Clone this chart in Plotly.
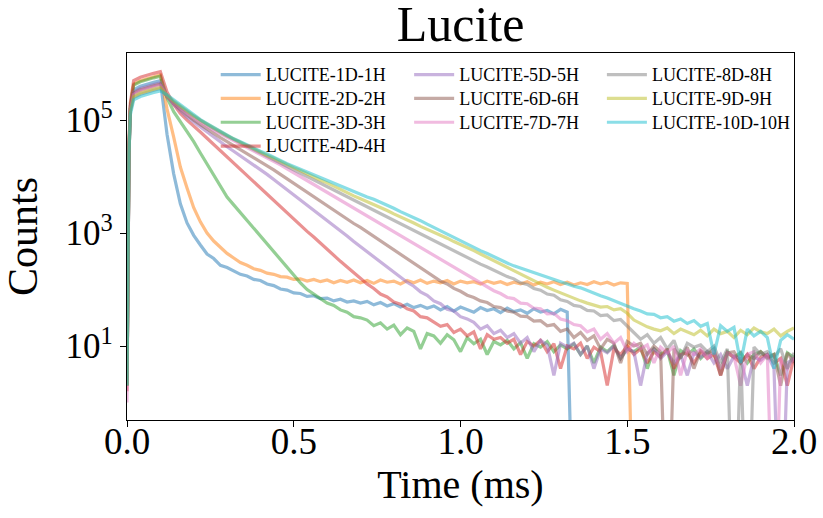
import numpy as np
import plotly.graph_objects as go

# time base (ms)
time_early = [0, 0.003, 0.006, 0.01, 0.02, 0.04, 0.06, 0.08, 0.1]
time_tail = list(np.round(np.arange(0.12, 2.0001, 0.02), 2))
time_ms = time_early + time_tail

series_names = ["LUCITE-1D-1H", "LUCITE-2D-2H", "LUCITE-3D-3H", "LUCITE-4D-4H",
                "LUCITE-5D-5H", "LUCITE-6D-6H", "LUCITE-7D-7H", "LUCITE-8D-8H",
                "LUCITE-9D-9H", "LUCITE-10D-10H"]

# log10(counts)
log_1 = [0.4, 3.0, 4.5, 5.2, 5.54, 5.60, 5.64, 5.67, 5.70,
         4.75, 4.05, 3.52, 3.18, 2.96, 2.79, 2.63, 2.55, 2.43, 2.39,
         2.33, 2.27, 2.24, 2.18, 2.16, 2.10, 2.07, 2.01, 1.99, 1.94,
         1.93, 1.88, 1.89, 1.84, 1.85, 1.80, 1.83, 1.78, 1.80, 1.76,
         1.79, 1.73, 1.77, 1.71, 1.75, 1.69, 1.74, 1.68, 1.72, 1.67,
         1.71, 1.64, 1.70, 1.62, 1.69, 1.65, 1.60, 1.68, 1.63, 1.66,
         1.59, 1.67, 1.61, 1.64, 1.58, 1.66, 1.60, 1.63, 1.57, 1.65,
         1.60, -3] + [None] * 33
log_2 = [0.4, 3.0, 4.5, 5.25, 5.64, 5.70, 5.74, 5.77, 5.80,
         5.20, 4.70, 4.17, 3.80, 3.45, 3.20, 3.00, 2.86, 2.74, 2.64,
         2.56, 2.48, 2.43, 2.37, 2.34, 2.29, 2.27, 2.23, 2.22, 2.18,
         2.19, 2.15, 2.18, 2.14, 2.17, 2.12, 2.16, 2.13, 2.17, 2.12,
         2.16, 2.11, 2.17, 2.13, 2.15, 2.10, 2.16, 2.12, 2.17, 2.11,
         2.15, 2.12, 2.16, 2.10, 2.15, 2.12, 2.14, 2.10, 2.15, 2.11,
         2.14, 2.09, 2.13, 2.10, 2.14, 2.08, 2.13, 2.10, 2.14, 2.09,
         2.13, 2.08, 2.12, 2.09, 2.14, 2.10, 2.13, 2.08, 2.12, 2.11,
         -3] + [None] * 24
log_3 = [0.3, 3.0, 4.5, 5.25, 5.62, 5.68, 5.72, 5.75, 5.78,
         5.40, 5.15, 4.98, 4.80, 4.62, 4.42, 4.22, 4.02, 3.83, 3.64,
         3.50, 3.36, 3.22, 3.09, 2.95, 2.82, 2.68, 2.53, 2.38, 2.25,
         2.12, 2.00, 1.92, 1.83, 1.76, 1.72, 1.64, 1.60, 1.52, 1.50,
         1.46, 1.36, 1.41, 1.30, 1.37, 1.20, 1.32, 1.26, 0.95, 1.22,
         1.18, 1.05, 1.20, 1.11, 0.90, 1.15, 1.04, 1.12, 0.85, 1.08,
         1.02, 1.10, 0.95, 1.06, 0.78, 1.04, 0.98, 1.08, 0.90, 1.02,
         0.95, 1.04, 0.85, 1.00, 0.70, 0.98, 0.90, 1.01, 0.78, 0.95,
         0.90, 0.98, 0.60, 0.95, 0.85, 0.93, 0.48, 0.92, 0.84, 0.95,
         0.78, 0.90, 0.85, 0.60, 0.90, 0.80, 0.88, 0.70, 0.85, 0.90,
         0.78, 0.85, 0.48, 0.88, 0.80]
log_4 = [0.2, 3.0, 4.6, 5.3, 5.70, 5.76, 5.80, 5.83, 5.86,
         5.50, 5.28, 5.12, 5.00, 4.90, 4.79, 4.68, 4.57, 4.46, 4.35,
         4.24, 4.13, 4.02, 3.91, 3.80, 3.69, 3.58, 3.47, 3.35, 3.24,
         3.13, 3.03, 2.93, 2.82, 2.71, 2.61, 2.50, 2.40, 2.30, 2.21,
         2.10, 2.02, 1.92, 1.87, 1.78, 1.74, 1.66, 1.62, 1.52, 1.50,
         1.42, 1.35, 1.38, 1.24, 1.30, 1.18, 1.25, 0.95, 1.20, 1.12,
         1.15, 1.05, 1.12, 0.85, 1.08, 1.00, 1.10, 0.90, 1.04, 0.60,
         1.00, 0.95, 1.05, 0.78, 0.98, 0.90, 0.30, 0.95, 0.85, 1.00,
         0.85, 0.95, 0.70, 0.90, 0.80, 0.95, 0.60, 0.85, 0.88, 0.70,
         0.90, 0.78, 0.85, 0.48, 0.88, 0.80, 0.70, 0.85, 0.60, 0.80,
         0.85, 0.70, 0.78, 0.30, 0.80]
log_5 = [0.3, 3.0, 4.4, 5.2, 5.50, 5.56, 5.60, 5.63, 5.66,
         5.42, 5.28, 5.16, 5.06, 4.97, 4.88, 4.79, 4.70, 4.61, 4.53,
         4.45, 4.37, 4.29, 4.21, 4.12, 4.04, 3.95, 3.86, 3.77, 3.68,
         3.59, 3.50, 3.41, 3.32, 3.22, 3.13, 3.04, 2.95, 2.85, 2.76,
         2.67, 2.58, 2.49, 2.41, 2.31, 2.23, 2.13, 2.06, 1.96, 1.90,
         1.80, 1.75, 1.65, 1.62, 1.52, 1.48, 1.42, 1.30, 1.36, 1.22,
         1.28, 1.15, 1.22, 1.05, 1.15, 0.90, 1.10, 1.02, 0.48, 1.05,
         0.98, 1.05, 0.85, 1.00, 0.60, 0.95, 0.88, 1.00, 0.78, 0.95,
         0.90, 0.30, 0.88, 0.95, 0.78, 0.90, 0.70, 0.85, 0.48, 0.88,
         0.80, 0.90, 0.70, 0.85, 0.60, 0.82, 0.78, 0.30, 0.80, 0.75,
         0.85, 0.60, -3, 0.70, 0.78]
log_6 = [0.3, 3.0, 4.4, 5.2, 5.48, 5.54, 5.58, 5.61, 5.64,
         5.42, 5.30, 5.19, 5.09, 5.00, 4.92, 4.84, 4.76, 4.69, 4.62,
         4.55, 4.48, 4.41, 4.34, 4.27, 4.20, 4.12, 4.04, 3.96, 3.88,
         3.80, 3.72, 3.64, 3.56, 3.48, 3.40, 3.32, 3.24, 3.17, 3.10,
         3.02, 2.94, 2.86, 2.78, 2.70, 2.62, 2.54, 2.46, 2.38, 2.30,
         2.23, 2.15, 2.10, 2.02, 1.97, 1.90, 1.86, 1.80, 1.77, 1.70,
         1.68, 1.62, 1.60, 1.53, 1.52, 1.44, 1.45, 1.36, 1.38, 1.26,
         1.30, 1.15, 1.24, 1.10, 1.18, 0.95, 1.12, 1.05, 0.70, 1.08,
         1.00, 1.05, 0.85, 1.00, 0.90, -3, 0.95, 0.80, 0.98, 0.60,
         0.92, 0.85, 0.95, 0.48, 0.88, 0.90, 0.70, 0.85, 0.78, 0.90,
         0.80, 0.85, 0.30, 0.88, 0.70]
log_7 = [0.0, 3.0, 4.4, 5.2, 5.46, 5.52, 5.56, 5.59, 5.62,
         5.43, 5.31, 5.21, 5.12, 5.04, 4.96, 4.89, 4.82, 4.76, 4.70,
         4.64, 4.58, 4.52, 4.46, 4.40, 4.34, 4.28, 4.21, 4.14, 4.07,
         4.00, 3.93, 3.86, 3.79, 3.72, 3.65, 3.58, 3.51, 3.44, 3.37,
         3.30, 3.23, 3.16, 3.09, 3.02, 2.95, 2.88, 2.81, 2.74, 2.67,
         2.60, 2.53, 2.46, 2.39, 2.32, 2.25, 2.18, 2.11, 2.05, 1.98,
         1.93, 1.86, 1.84, 1.76, 1.75, 1.67, 1.66, 1.57, 1.58, 1.48,
         1.45, 1.38, 1.36, 1.25, 1.30, 1.12, 1.22, 1.05, 1.15, 0.90,
         1.05, 0.95, 1.02, 0.70, 0.98, 0.88, 1.00, 0.48, 0.92, 0.85,
         0.95, 0.78, 0.90, 0.60, 0.88, 0.82, 0.30, 0.85, 0.90, 0.70,
         0.85, -3, 0.78, 0.60, 0.80]
log_8 = [0.3, 3.0, 4.4, 5.15, 5.40, 5.46, 5.50, 5.53, 5.56,
         5.42, 5.32, 5.23, 5.15, 5.07, 4.99, 4.92, 4.85, 4.78, 4.72,
         4.66, 4.60, 4.54, 4.48, 4.42, 4.36, 4.30, 4.24, 4.18, 4.12,
         4.06, 4.00, 3.94, 3.88, 3.82, 3.76, 3.70, 3.64, 3.58, 3.52,
         3.46, 3.40, 3.34, 3.28, 3.22, 3.16, 3.10, 3.04, 2.98, 2.92,
         2.86, 2.80, 2.74, 2.68, 2.62, 2.56, 2.50, 2.45, 2.40, 2.34,
         2.28, 2.23, 2.19, 2.12, 2.09, 2.02, 1.99, 1.92, 1.90, 1.82,
         1.79, 1.72, 1.70, 1.63, 1.62, 1.54, 1.55, 1.45, 1.47, 1.35,
         1.25, 1.12, 1.20, 1.05, 1.15, 0.95, 1.10, 0.78, 1.05, 0.98,
         1.02, 0.90, 1.00, 0.70, 0.95, -3, 0.92, -3, 0.98, 0.85,
         0.90, 0.80, 0.95, 0.60, 0.88]
log_9 = [0.3, 3.0, 4.4, 5.15, 5.42, 5.48, 5.52, 5.55, 5.58,
         5.44, 5.34, 5.25, 5.16, 5.08, 5.00, 4.93, 4.86, 4.79, 4.73,
         4.67, 4.61, 4.55, 4.50, 4.44, 4.38, 4.33, 4.27, 4.22, 4.16,
         4.11, 4.05, 4.00, 3.94, 3.89, 3.83, 3.77, 3.72, 3.66, 3.61,
         3.56, 3.50, 3.45, 3.40, 3.34, 3.29, 3.23, 3.18, 3.12, 3.07,
         3.02, 2.96, 2.91, 2.85, 2.80, 2.74, 2.69, 2.63, 2.57, 2.52,
         2.46, 2.40, 2.34, 2.28, 2.22, 2.16, 2.10, 2.04, 1.99, 1.94,
         1.89, 1.84, 1.80, 1.76, 1.72, 1.69, 1.70, 1.64, 1.66, 1.58,
         1.46, 1.40, 1.34, 1.30, 1.27, 1.32, 1.22, 1.30, 1.25, 1.20,
         1.28, 1.18, 1.30, 1.22, 1.26, 1.15, 1.28, 1.20, 1.32, 1.25,
         1.22, 1.30, 1.18, 1.26, 1.32]
log_10 = [0.3, 3.0, 4.4, 5.1, 5.36, 5.42, 5.46, 5.49, 5.52,
          5.45, 5.36, 5.27, 5.18, 5.09, 5.01, 4.94, 4.87, 4.80, 4.73,
          4.67, 4.62, 4.56, 4.51, 4.45, 4.40, 4.34, 4.29, 4.23, 4.18,
          4.13, 4.08, 4.03, 3.98, 3.93, 3.88, 3.83, 3.78, 3.73, 3.68,
          3.64, 3.60, 3.55, 3.49, 3.44, 3.38, 3.33, 3.27, 3.22, 3.16,
          3.10, 3.05, 2.99, 2.93, 2.87, 2.81, 2.75, 2.69, 2.64, 2.58,
          2.53, 2.47, 2.42, 2.38, 2.33, 2.29, 2.25, 2.21, 2.18, 2.14,
          2.10, 2.06, 2.03, 1.98, 1.94, 1.89, 1.85, 1.80, 1.76, 1.71,
          1.66, 1.62, 1.57, 1.56, 1.50, 1.52, 1.44, 1.48, 1.40, 1.45,
          1.35, 1.40, 0.85, 1.36, 1.26, 1.33, 0.70, 1.30, 1.18, 1.26,
          1.15, 0.60, 1.10, 1.20, 1.12]

series_logs = [log_1, log_2, log_3, log_4, log_5, log_6, log_7, log_8, log_9, log_10]
colors = ["#1f77b4", "#ff7f0e", "#2ca02c", "#d62728", "#9467bd",
          "#8c564b", "#e377c2", "#7f7f7f", "#bcbd22", "#17becf"]
legend_of = ["legend"] * 4 + ["legend2"] * 3 + ["legend3"] * 3

FONT = "Liberation Serif"
fig = go.Figure()
for name, lg, col, leg in zip(series_names, series_logs, colors, legend_of):
    counts = [None if v is None else 10 ** v for v in lg]
    fig.add_trace(go.Scatter(
        x=time_ms, y=counts, mode="lines",
        name='<span style="font-size:18px">' + name + "</span>",
        line=dict(color=col, width=3.2), opacity=0.5,
        legend=leg, legendgroup=name,
    ))

leg_common = dict(font=dict(family=FONT, size=16, color="black"),
                  bgcolor="rgba(0,0,0,0)", borderwidth=0,
                  xanchor="left", yanchor="top", tracegroupgap=0,
                  orientation="v", itemwidth=40)
fig.update_layout(
    width=823, height=518,
    margin=dict(l=127, r=29, t=53, b=98, autoexpand=False),
    paper_bgcolor="white", plot_bgcolor="white",
    font=dict(family=FONT, color="black"),
    title=dict(text="Lucite", font=dict(family=FONT, size=50, color="black"),
               x=0.5, xref="paper", xanchor="center",
               y=1 - 23 / 518, yref="container", yanchor="middle"),
    legend=dict(x=0.133, y=0.987, **leg_common),
    legend2=dict(x=0.423, y=0.987, **leg_common),
    legend3=dict(x=0.712, y=0.987, **leg_common),
    showlegend=True,
)
fig.update_xaxes(
    range=[0, 2.0], tickvals=[0, 0.5, 1.0, 1.5, 2.0],
    ticktext=["0.0", "0.5", "1.0", "1.5", "2.0"],
    ticks="outside", ticklen=6, tickwidth=1.3, tickcolor="black",
    showline=True, linecolor="black", linewidth=1.3, mirror=True,
    showgrid=False, zeroline=False, automargin=False,
    tickfont=dict(family=FONT, size=37, color="black"),
    ticklabelstandoff=-18,
    title=dict(text="Time (ms)", font=dict(family=FONT, size=40, color="black"), standoff=0),
)
fig.update_yaxes(
    type="log", range=[-0.31, 6.19],
    tickvals=[10, 1000, 100000],
    ticktext=["10<sup>1</sup>", "10<sup>3</sup>", "10<sup>5</sup>"],
    ticks="outside", ticklen=6, tickwidth=1.3, tickcolor="black",
    showline=True, linecolor="black", linewidth=1.3, mirror=True,
    showgrid=False, zeroline=False, automargin=False,
    tickfont=dict(family=FONT, size=35, color="black"),
    title=dict(text="Counts", font=dict(family=FONT, size=42, color="black"), standoff=16),
)
fig.write_html("out.html", config={"displayModeBar": False},
               post_script="document.body.style.margin='0';document.body.style.padding='0';")
